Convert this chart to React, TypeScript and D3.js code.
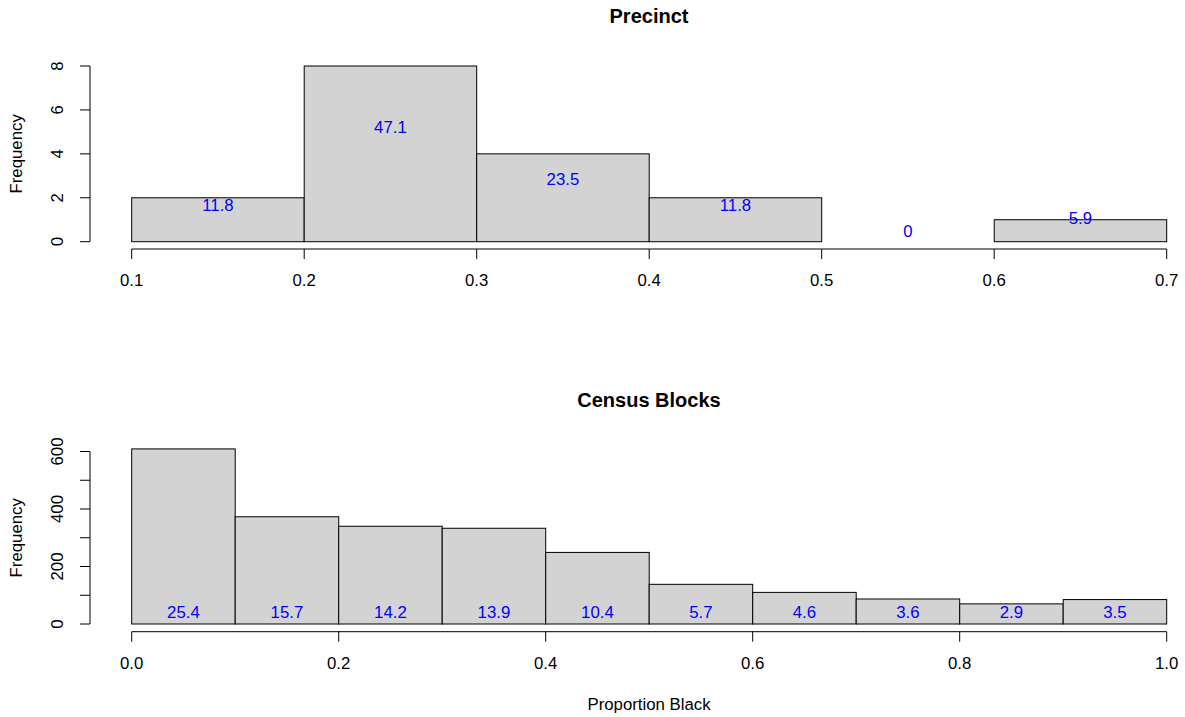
import React, { useRef, useEffect } from "react";
import * as d3 from "d3";

// Precinct histogram (bins of 0.1 from 0.1 to 0.7)
const precinctBreaks = [0.1, 0.2, 0.3, 0.4, 0.5, 0.6, 0.7];
const precinctCounts = [2, 8, 4, 2, 0, 1];
const precinctPct = ["11.8", "47.1", "23.5", "11.8", "0", "5.9"];
const precinctLabelY = [1.68, 5.21, 2.85, 1.68, 0.5, 1.09];
const precinctYTicks = [0, 2, 4, 6, 8];
const precinctXTicks = [0.1, 0.2, 0.3, 0.4, 0.5, 0.6, 0.7];

// Census block histogram (bins of 0.1 from 0 to 1)
const blockBreaks = [0, 0.1, 0.2, 0.3, 0.4, 0.5, 0.6, 0.7, 0.8, 0.9, 1.0];
const blockCounts = [609, 373, 340, 333, 249, 138, 110, 87, 70, 85];
const blockPct = ["25.4", "15.7", "14.2", "13.9", "10.4", "5.7", "4.6", "3.6", "2.9", "3.5"];
const blockLabelY = [42, 42, 42, 42, 42, 42, 42, 42, 42, 42];
const blockYTicks = [0, 100, 200, 300, 400, 500, 600];
const blockYLabels = [0, 200, 400, 600];
const blockXTicks = [0, 0.2, 0.4, 0.6, 0.8, 1.0];

const W = 1185;
const H = 717;
const FONT = "Liberation Sans, Arial, Helvetica, sans-serif";

const App = () => {
  const svgRef = useRef(null);

  useEffect(() => {
    const svg = d3.select(svgRef.current);
    svg.selectAll("*").remove();

    const drawPanel = (opts) => {
      const { breaks, counts, pct, labelY, yTicks, yLabels, xTicks, xDomain, yDomain, yRange, axisY, title, titleY, xFmt } = opts;
      const x = d3.scaleLinear().domain(xDomain).range([131.7, 1166.7]);
      const y = d3.scaleLinear().domain(yDomain).range(yRange);
      const g = svg.append("g");

      const bins = counts.map((c, i) => ({ x0: breaks[i], x1: breaks[i + 1], c, pct: pct[i], ly: labelY[i] }));

      g.selectAll(".bar")
        .data(bins)
        .enter()
        .append("rect")
        .attr("x", d => x(d.x0))
        .attr("y", d => y(d.c))
        .attr("width", d => x(d.x1) - x(d.x0))
        .attr("height", d => y(0) - y(d.c))
        .style("fill", "#d3d3d3")
        .style("stroke", "#000")
        .style("stroke-width", 1);

      g.selectAll(".pct")
        .data(bins)
        .enter()
        .append("text")
        .attr("x", d => x((d.x0 + d.x1) / 2))
        .attr("y", d => y(d.ly))
        .attr("dy", "0.35em")
        .attr("text-anchor", "middle")
        .style("fill", "#0000ff")
        .style("font-size", "16.8px")
        .text(d => d.pct);

      // x axis (R style)
      const xa = g.append("g");
      xa.append("line")
        .attr("x1", x(xTicks[0])).attr("x2", x(xTicks[xTicks.length - 1]))
        .attr("y1", axisY).attr("y2", axisY)
        .style("stroke", "#000");
      xa.selectAll(".xt").data(xTicks).enter().append("line")
        .attr("x1", d => x(d)).attr("x2", d => x(d))
        .attr("y1", axisY).attr("y2", axisY + 10)
        .style("stroke", "#000");
      xa.selectAll(".xl").data(xTicks).enter().append("text")
        .attr("x", d => x(d))
        .attr("y", axisY + 31.5)
        .attr("dy", "0.35em")
        .attr("text-anchor", "middle")
        .style("font-size", "16.8px")
        .text(xFmt);

      // y axis
      const ya = g.append("g");
      ya.append("line")
        .attr("x1", 90).attr("x2", 90)
        .attr("y1", y(yTicks[0])).attr("y2", y(yTicks[yTicks.length - 1]))
        .style("stroke", "#000");
      ya.selectAll(".yt").data(yTicks).enter().append("line")
        .attr("x1", 80).attr("x2", 90)
        .attr("y1", d => y(d)).attr("y2", d => y(d))
        .style("stroke", "#000");
      ya.selectAll(".yl").data(yLabels).enter().append("text")
        .attr("transform", d => `translate(57.5,${y(d)}) rotate(-90)`)
        .attr("dy", "0.35em")
        .attr("text-anchor", "middle")
        .style("font-size", "16.8px")
        .text(d => d);

      g.append("text")
        .attr("transform", `translate(16,${(yRange[0] + yRange[1]) / 2}) rotate(-90)`)
        .attr("dy", "0.35em")
        .attr("text-anchor", "middle")
        .style("font-size", "16.8px")
        .text("Frequency");

      g.append("text")
        .attr("x", 649)
        .attr("y", titleY)
        .attr("dy", "0.35em")
        .attr("text-anchor", "middle")
        .style("font-size", "20px")
        .style("font-weight", "bold")
        .text(title);
    };

    drawPanel({
      breaks: precinctBreaks, counts: precinctCounts, pct: precinctPct, labelY: precinctLabelY,
      yTicks: precinctYTicks, yLabels: precinctYTicks, xTicks: precinctXTicks,
      xDomain: [0.1, 0.7], yDomain: [0, 8], yRange: [241.7, 66], axisY: 249,
      title: "Precinct", titleY: 16, xFmt: d => d3.format(".1f")(d),
    });

    drawPanel({
      breaks: blockBreaks, counts: blockCounts, pct: blockPct, labelY: blockLabelY,
      yTicks: blockYTicks, yLabels: blockYLabels, xTicks: blockXTicks,
      xDomain: [0, 1], yDomain: [0, 600], yRange: [624, 451.5], axisY: 631.7,
      title: "Census Blocks", titleY: 399.5, xFmt: d => d3.format(".1f")(d),
    });

    svg.append("text")
      .attr("x", 649)
      .attr("y", 704)
      .attr("dy", "0.35em")
      .attr("text-anchor", "middle")
      .style("font-size", "16.8px")
      .text("Proportion Black");
  }, []);

  return (
    <svg
      ref={svgRef}
      width={W}
      height={H}
      style={{ position: "absolute", left: 0, top: 0, background: "#fff", fontFamily: FONT }}
    ></svg>
  );
};

export default App;
